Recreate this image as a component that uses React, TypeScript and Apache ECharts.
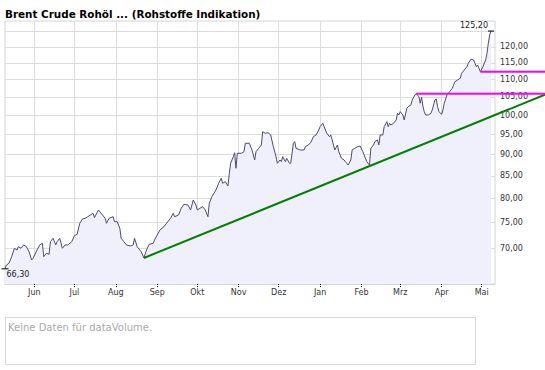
import React, { useEffect, useRef } from "react";
import * as echarts from "echarts";

const chartTitle = "Brent Crude Rohöl ... (Rohstoffe Indikation)";
const volumeNote = "Keine Daten für dataVolume.";

const priceDates = [
  "2007-05-10","2007-05-11","2007-05-13","2007-05-15","2007-05-17","2007-05-19","2007-05-20","2007-05-22","2007-05-24","2007-05-26",
  "2007-05-28","2007-05-30","2007-05-31","2007-06-03","2007-06-05","2007-06-07","2007-06-08","2007-06-10","2007-06-12","2007-06-13",
  "2007-06-15","2007-06-17","2007-06-18","2007-06-20","2007-06-22","2007-06-24","2007-06-26","2007-06-29","2007-07-01","2007-07-03",
  "2007-07-05","2007-07-07","2007-07-09","2007-07-11","2007-07-13","2007-07-15","2007-07-16","2007-07-19","2007-07-21","2007-07-24",
  "2007-07-25","2007-07-27","2007-07-30","2007-07-31","2007-08-02","2007-08-04","2007-08-05","2007-08-07","2007-08-09","2007-08-12",
  "2007-08-14","2007-08-15","2007-08-17","2007-08-20","2007-08-22","2007-08-24","2007-08-26","2007-08-29","2007-08-30","2007-09-01",
  "2007-09-03","2007-09-06","2007-09-08","2007-09-11","2007-09-13","2007-09-14","2007-09-17","2007-09-19","2007-09-21","2007-09-24",
  "2007-09-26","2007-09-28","2007-09-30","2007-10-01","2007-10-03","2007-10-05","2007-10-07","2007-10-09","2007-10-10","2007-10-12",
  "2007-10-15","2007-10-17","2007-10-19","2007-10-20","2007-10-22","2007-10-24","2007-10-25","2007-10-26","2007-10-28","2007-10-29",
  "2007-10-30","2007-10-31","2007-11-03","2007-11-05","2007-11-06","2007-11-09","2007-11-11","2007-11-13","2007-11-14","2007-11-16",
  "2007-11-18","2007-11-19","2007-11-21","2007-11-23","2007-11-25","2007-11-27","2007-11-29","2007-11-30","2007-12-02","2007-12-03",
  "2007-12-04","2007-12-06","2007-12-07","2007-12-09","2007-12-10","2007-12-12","2007-12-13","2007-12-14","2007-12-17","2007-12-20",
  "2007-12-21","2007-12-23","2007-12-25","2007-12-27","2007-12-29","2007-12-31","2008-01-01","2008-01-03","2008-01-04","2008-01-06",
  "2008-01-08","2008-01-09","2008-01-10","2008-01-12","2008-01-14","2008-01-15","2008-01-17","2008-01-19","2008-01-21","2008-01-22",
  "2008-01-24","2008-01-25","2008-01-27","2008-01-29","2008-01-31","2008-02-02","2008-02-03","2008-02-05","2008-02-07","2008-02-08",
  "2008-02-10","2008-02-11","2008-02-13","2008-02-14","2008-02-15","2008-02-17","2008-02-18","2008-02-20","2008-02-21","2008-02-22",
  "2008-02-23","2008-02-25","2008-02-27","2008-02-28","2008-02-29","2008-03-01","2008-03-03","2008-03-04","2008-03-06","2008-03-07",
  "2008-03-09","2008-03-10","2008-03-12","2008-03-13","2008-03-15","2008-03-16","2008-03-17","2008-03-18","2008-03-19","2008-03-20",
  "2008-03-22","2008-03-24","2008-03-25","2008-03-27","2008-03-28","2008-03-29","2008-03-30","2008-04-01","2008-04-02","2008-04-03",
  "2008-04-05","2008-04-07","2008-04-09","2008-04-10","2008-04-11","2008-04-13","2008-04-15","2008-04-16","2008-04-18","2008-04-20",
  "2008-04-21","2008-04-23","2008-04-25","2008-04-26","2008-04-27","2008-04-28","2008-04-29","2008-04-30","2008-05-02","2008-05-04",
  "2008-05-05","2008-05-06","2008-05-07","2008-05-08"
];

const priceValues = [
  66.30,66.97,67.29,68.48,70.04,69.72,70.34,70.04,70.66,70.34,
  69.40,67.88,68.19,69.72,70.66,70.98,68.48,69.11,68.92,71.28,
  71.94,70.66,71.28,71.94,70.04,70.66,70.66,71.28,72.44,72.71,
  74.88,75.75,75.88,76.21,76.56,76.91,76.01,77.59,76.91,75.88,
  74.88,75.88,76.21,75.20,75.20,73.88,71.94,71.28,70.66,70.47,
  70.66,71.94,70.34,69.40,68.25,69.72,70.79,70.98,71.61,72.57,
  73.55,74.20,74.88,75.88,76.91,76.21,76.56,77.94,78.78,78.63,
  77.59,79.69,78.63,77.59,77.94,78.28,77.59,76.21,78.99,80.40,
  81.85,83.33,84.45,83.33,83.69,82.73,85.59,87.91,89.48,90.43,
  86.74,90.29,90.29,90.68,92.74,92.74,91.09,88.68,90.68,91.50,
  92.31,95.66,95.25,95.40,94.82,91.90,89.48,87.91,88.68,88.29,
  89.48,88.29,89.09,87.91,87.91,92.74,93.14,91.50,91.09,91.09,
  91.90,92.31,92.89,94.39,94.82,96.09,96.95,97.83,96.95,95.25,
  94.39,94.82,93.56,91.09,92.31,90.68,89.09,88.68,87.91,87.51,
  88.68,91.09,91.50,91.90,92.07,90.68,89.88,88.29,87.51,91.50,
  92.31,93.14,93.56,92.31,94.82,94.82,96.95,98.25,96.95,97.83,
  97.38,97.83,98.70,100.48,100.03,100.92,100.03,98.70,101.84,102.27,
  102.74,104.13,105.52,105.90,105.04,103.21,104.88,102.47,100.92,100.03,
  100.03,100.48,101.37,104.13,104.40,102.27,100.92,100.21,101.37,103.21,
  105.52,106.46,107.42,108.38,109.34,109.84,110.35,111.82,112.82,113.82,
  114.86,116.10,115.88,114.86,113.82,114.33,113.33,112.30,113.82,115.88,
  117.96,121.17,123.89,125.20
];

const trendDates = ["2007-08-22", "2008-06-18"];
const trendValues = [68.25, 105.7];
const resistance1Dates = ["2008-03-13", "2008-06-18"];
const resistance1Values = [105.9, 105.9];
const resistance2Dates = ["2008-04-30", "2008-06-18"];
const resistance2Values = [112.3, 112.3];

const yGridValues = [70, 75, 80, 85, 90, 95, 100, 105, 110, 115, 120, 125];
const yLabelValues = [70, 75, 80, 85, 90, 95, 100, 105, 110, 115, 120];
const yRange = [63.66, 128.6];
const xRange = ["2007-05-10", "2008-05-11"];
const monthTicks = [
  "2007-06-01","2007-07-01","2007-08-01","2007-09-01","2007-10-01","2007-11-01",
  "2007-12-01","2008-01-01","2008-02-01","2008-03-01","2008-04-01","2008-05-01"
];
const monthNames = ["Jan","Feb","Mrz","Apr","Mai","Jun","Jul","Aug","Sep","Okt","Nov","Dez"];

const toTs = (s: string) => {
  const [y, m, d] = s.split("-").map(Number);
  return new Date(y, m - 1, d).getTime();
};
const fmt = (v: number) => v.toFixed(2).replace(".", ",");
const FONT = "DejaVu Sans";

// layout
const PLOT_LEFT = 5;
const PLOT_RIGHT_GAP = 50;
const OVERLAY_RIGHT_GAP = 0;
const CHART_W = 545;

export default function App() {
  const ref = useRef<HTMLDivElement>(null);
  useEffect(() => {
    if (!ref.current) return;
    const chart = echarts.init(ref.current, null, { renderer: "svg" });
    const pair = (ds: string[], vs: number[]) => ds.map((d, i) => [toTs(d), Math.log(vs[i])]);
    const x0 = toTs(xRange[0]);
    const x1 = toTs(xRange[1]);
    const plotW = CHART_W - PLOT_LEFT - PLOT_RIGHT_GAP;
    const overlayW = CHART_W - PLOT_LEFT - OVERLAY_RIGHT_GAP;
    // overlay axis shares the same time scale as the plot but spans to the chart's right edge
    const overlayMax = x0 + ((x1 - x0) * overlayW) / plotW;
    const option: any = {
      animation: false,
      backgroundColor: "#fff",
      grid: [
        {
          left: PLOT_LEFT, right: PLOT_RIGHT_GAP, top: 21, bottom: 86,
          show: true, borderColor: "#d4d4d4", borderWidth: 1, backgroundColor: "#fff",
        },
        { left: PLOT_LEFT, right: OVERLAY_RIGHT_GAP, top: 21, bottom: 86, show: false },
      ],
      graphic: [
        {
          type: "text", x: 5, y: 14.2,
          style: { text: chartTitle, font: `bold 10.4px "${FONT}"`, fill: "#000", verticalAlign: "middle" },
        },
        {
          type: "rect", shape: { x: 5.5, y: 317.5, width: 470, height: 47 },
          style: { fill: "#fff", stroke: "#d8d8d8", lineWidth: 1 },
        },
        {
          type: "text", x: 8, y: 327,
          style: { text: volumeNote, font: `10px "${FONT}"`, fill: "#aaa", verticalAlign: "middle" },
        },
      ],
      xAxis: [
        {
          type: "value",
          gridIndex: 0,
          min: x0,
          max: x1,
          axisLine: { show: true, lineStyle: { color: "#d4d4d4" } },
          axisTick: {
            show: true, length: 4, customValues: monthTicks.map(toTs),
            lineStyle: { color: "#000", type: "dotted" },
          },
          splitLine: { show: true, lineStyle: { color: "#dcdcdc", width: 1 } },
          axisLabel: {
            customValues: monthTicks.map(toTs),
            formatter: (v: number) => monthNames[new Date(v).getMonth()],
            margin: 4, color: "#333", fontSize: 8, fontFamily: FONT,
          },
        },
        {
          type: "value", gridIndex: 1, min: x0, max: overlayMax, show: false,
          splitLine: { show: false },
        },
      ],
      yAxis: [
        {
          type: "value",
          gridIndex: 0,
          position: "right",
          min: Math.log(yRange[0]),
          max: Math.log(yRange[1]),
          axisLine: { show: false },
          axisTick: { show: false, customValues: yGridValues.map(Math.log) },
          splitLine: { show: true, lineStyle: { color: "#dcdcdc", width: 1 } },
          axisLabel: {
            customValues: yLabelValues.map(Math.log),
            formatter: (v: number) => fmt(Math.exp(v)),
            margin: 5, color: "#333", fontSize: 8, fontFamily: FONT,
          },
        },
        {
          type: "value", gridIndex: 1, min: Math.log(yRange[0]), max: Math.log(yRange[1]), show: false,
          splitLine: { show: false },
        },
      ],
      series: [
        {
          type: "line",
          xAxisIndex: 0, yAxisIndex: 0,
          data: pair(priceDates, priceValues),
          symbol: "none",
          lineStyle: { color: "#4c4c6c", width: 1 },
          areaStyle: { color: "#f0f0fc", origin: "start", opacity: 1 },
          z: 2,
          markPoint: {
            silent: true,
            data: [
              {
                type: "max", symbol: "rect", symbolSize: [6, 1], itemStyle: { color: "#000" },
                label: {
                  show: true, position: [0, -1], align: "right", verticalAlign: "bottom",
                  formatter: (p: any) => fmt(Math.exp(p.value)),
                  color: "#222", fontSize: 8, fontFamily: FONT,
                },
              },
              {
                type: "min", symbol: "rect", symbolSize: [7, 1], itemStyle: { color: "#000" },
                label: {
                  show: true, position: [5, 2], align: "left", verticalAlign: "top",
                  formatter: (p: any) => fmt(Math.exp(p.value)),
                  color: "#222", fontSize: 8, fontFamily: FONT,
                },
              },
            ],
          },
        },
        {
          type: "line", xAxisIndex: 1, yAxisIndex: 1,
          data: pair(trendDates, trendValues), symbol: "none", silent: true,
          lineStyle: { color: "#008000", width: 2 }, z: 4,
        },
        {
          type: "line", xAxisIndex: 1, yAxisIndex: 1,
          data: pair(resistance1Dates, resistance1Values), symbol: "none", silent: true,
          lineStyle: { color: "#ff00ff", width: 2 }, z: 4,
        },
        {
          type: "line", xAxisIndex: 1, yAxisIndex: 1,
          data: pair(resistance2Dates, resistance2Values), symbol: "none", silent: true,
          lineStyle: { color: "#ff00ff", width: 2 }, z: 4,
        },
      ],
    };
    chart.setOption(option);
    return () => chart.dispose();
  }, []);
  return (
    <div
      ref={ref}
      style={{ position: "fixed", left: 0, top: 0, width: CHART_W, height: 370 }}
    />
  );
}
